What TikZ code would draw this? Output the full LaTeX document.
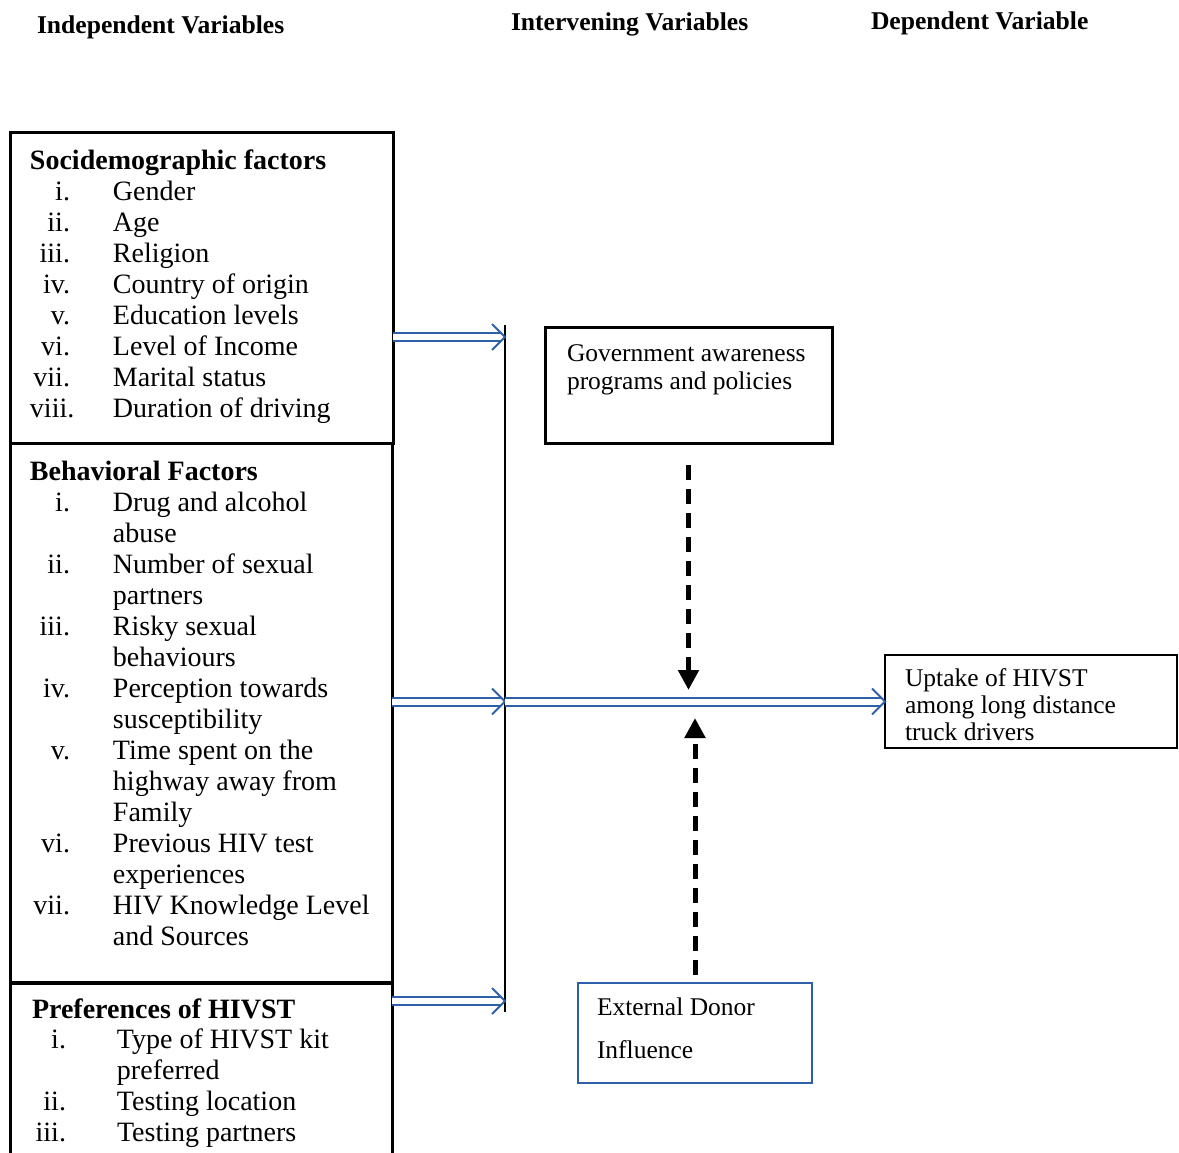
\documentclass[tikz,border=0pt]{standalone}
\usepackage{fontspec}
\setmainfont{Liberation Serif}
\usepackage{array}
\usepackage{tikz}
\usetikzlibrary{arrows.meta, positioning, decorations.markings}

\definecolor{flowblue}{RGB}{45,95,170}

\begin{document}
\begin{tikzpicture}[
    x = 1pt, y = -1pt,
    every node/.style = {inner sep = 0pt, outer sep = 0pt},
    factorbox/.style = {draw, line width = 3pt},
    heading/.style = {anchor = base west,
      font = \fontsize{25.6}{28}\selectfont\bfseries},
    listtext/.style = {anchor = base west,
      font = \fontsize{28}{31}\selectfont},
    boxtext/.style = {anchor = base west,
      font = \fontsize{25.5}{27}\selectfont},
    flow/.style = {draw = flowblue, line width = 2pt, double = white,
      double distance = 6pt, shorten >= 4pt,
      postaction = {decorate, decoration = {markings,
          mark = at position 1 with {\draw [flowblue, line width = 2pt, shorten >= 0pt,
              line join = miter] (-13pt, 13pt) -- (0pt, 0pt) -- (-13pt, -13pt);}}}},
    influence/.style = {line width = 5pt, dash pattern = on 15pt off 9pt,
      -{Triangle[width = 20pt, length = 20pt]}}
    ]
    \useasboundingbox (0, 0) rectangle (1179, 1153);

    % column headings
    \node at (37, 34) [heading, name = indephead] {Independent Variables};
    \node at (511, 31) [heading, name = intervhead] {Intervening Variables};
    \node at (871, 30) [heading, name = dephead] {Dependent Variable};

    % independent variable boxes
    \node at (201.5, 288) [factorbox, minimum width = 383, minimum height = 310, name = socio] {};
    \node at (201, 712.5) [factorbox, minimum width = 382, minimum height = 539, name = behav] {};
    \node at (201, 1079) [factorbox, minimum width = 382, minimum height = 192, name = pref] {};

    \node at (30, 170) [listtext, name = sociotext] {%
      \begin{tabular}[t]{@{}>{\raggedleft\arraybackslash}p{40pt}@{\hspace{43pt}}l@{}}
        \multicolumn{2}{@{}l@{}}{\textbf{Socidemographic factors}}\\
        i. & Gender\\
        ii. & Age\\
        iii. & Religion\\
        iv. & Country of origin\\
        v. & Education levels\\
        vi. & Level of Income\\
        vii. & Marital status\\
        viii. & Duration of driving
      \end{tabular}};

    \node at (30, 480) [listtext, name = behavtext] {%
      \begin{tabular}[t]{@{}>{\raggedleft\arraybackslash}p{40pt}@{\hspace{43pt}}l@{}}
        \multicolumn{2}{@{}l@{}}{\textbf{Behavioral Factors}}\\
        i. & Drug and alcohol\\
           & abuse\\
        ii. & Number of sexual\\
            & partners\\
        iii. & Risky sexual\\
             & behaviours\\
        iv. & Perception towards\\
            & susceptibility\\
        v. & Time spent on the\\
           & highway away from\\
           & Family\\
        vi. & Previous HIV test\\
            & experiences\\
        vii. & HIV Knowledge Level\\
             & and Sources
      \end{tabular}};

    \node at (32, 1018) [listtext, font = \fontsize{28}{30.8}\selectfont, name = preftext] {%
      \begin{tabular}[t]{@{}>{\raggedleft\arraybackslash}p{34pt}@{\hspace{51pt}}l@{}}
        \multicolumn{2}{@{}l@{}}{\textbf{Preferences of HIVST}}\\
        i. & Type of HIVST kit\\
           & preferred\\
        ii. & Testing location\\
        iii. & Testing partners
      \end{tabular}};

    % intervening and dependent boxes
    \node at (688.5, 385) [factorbox, minimum width = 287, minimum height = 116, name = gov] {};
    \node at (567, 361) [boxtext, font = \fontsize{25.5}{28}\selectfont, name = govtext] {%
      \begin{tabular}[t]{@{}l@{}}
        Government awareness\\
        programs and policies
      \end{tabular}};

    \node at (695, 1033) [draw = flowblue, line width = 2pt, minimum width = 234,
      minimum height = 100, name = donor] {};
    \node at (597, 1015) [boxtext, font = \fontsize{25.5}{43}\selectfont, name = donortext] {%
      \begin{tabular}[t]{@{}l@{}}
        External Donor\\
        Influence
      \end{tabular}};

    \node at (1031, 701.5) [draw, line width = 2.5pt, minimum width = 292,
      minimum height = 93, name = uptake] {};
    \node at (905, 686) [boxtext, name = uptaketext] {%
      \begin{tabular}[t]{@{}l@{}}
        Uptake of HIVST\\
        among long distance\\
        truck drivers
      \end{tabular}};

    % collecting line
    \coordinate (bustop) at (505, 325);
    \coordinate (busbot) at (505, 1012);
    \coordinate (join1) at (505, 337);
    \coordinate (join2) at (505, 701.5);
    \coordinate (join3) at (505, 1001);
    \draw [line width = 1.5pt] (bustop) -- (busbot);

    \draw [flow] (socio.east |- join1) to (join1);
    \draw [flow] (behav.east |- join2) to (join2);
    \draw [flow] (pref.east |- join3) to (join3);
    \draw [flow] (join2) to (uptake.west);

    % influences on the main flow
    \coordinate (govtip) at (688.5, 690);
    \coordinate (donortip) at (695, 718);
    \draw [influence, shorten <= 22pt] (gov.south) to (govtip);
    \draw [influence, shorten <= 8pt] (donor.north) to (donortip);
  \end{tikzpicture}
\end{document}
